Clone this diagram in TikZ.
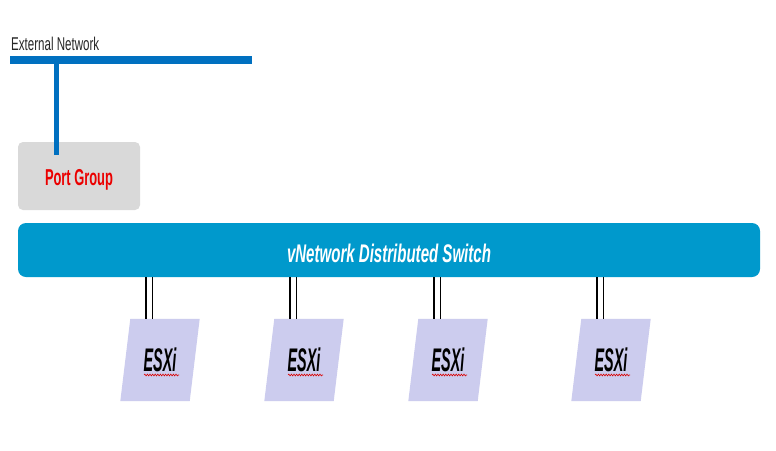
\documentclass[tikz,border=0pt]{standalone}
\usepackage{fontspec}
\setmainfont{Liberation Sans}
\usepackage{graphicx}
\usetikzlibrary{backgrounds,decorations.pathmorphing}
\definecolor{extblue}{RGB}{0,112,192}
\definecolor{swblue}{RGB}{0,153,204}
\definecolor{pggray}{RGB}{217,217,217}
\definecolor{lav}{RGB}{204,204,238}
\definecolor{pgred}{RGB}{235,0,0}
\newcommand{\hsq}[2]{\scalebox{#1}[1]{#2}}
\begin{document}
\begin{tikzpicture}[x=1pt,y=-1pt,
  extline/.style={extblue,line width=8pt},
  tapline/.style={extblue,line width=5pt},
  extlbl/.style={anchor=base west,inner sep=0pt,text=black!85,font=\fontsize{18.5}{20}\selectfont},
  pgbox/.style={fill=pggray,rounded corners=5pt,minimum width=122pt,minimum height=68pt,inner sep=0pt,
    text height=18pt,text depth=0pt,text=pgred,font=\bfseries\fontsize{23}{26}\selectfont},
  swbox/.style={fill=swblue,rounded corners=8pt,minimum width=742pt,minimum height=54pt,inner sep=0pt,
    text height=24pt,text depth=0pt,text=white,font=\bfseries\itshape\fontsize{25.5}{28}\selectfont},
  esx/.style={minimum width=69pt,minimum height=82pt,inner sep=0pt,text height=23.4pt,text depth=0pt,
    text=black,font=\bfseries\itshape\fontsize{32.7}{36}\selectfont},
  uplink/.style={black,line width=1.6pt},
  squiggle/.style={red!85!black,line width=0.6pt,decorate,decoration={snake,amplitude=0.9pt,segment length=2.6pt}}
]
\useasboundingbox (0,0) rectangle (776,450);
\begin{scope}[on background layer]
  \fill[white] (0,0) rectangle (776,450);
\end{scope}
% external network
\coordinate (extL) at (10,60);
\coordinate (extR) at (252,60);
\node[extlbl] (extlabel) at (11,50) {\hsq{0.625}{External Network}};
\draw[extline] (extL) -- (extR);
% port group
\node[pgbox] (pg) at (79,176) {\hsq{0.56}{Port Group}};
\coordinate (tapT) at (56,60);
\coordinate (tapB) at (56,155);
\draw[tapline] (tapT) -- (tapB);
% switch
\node[swbox] (sw) at (389,250) {\hsq{0.59}{vNetwork Distributed Switch}};
% hosts
\foreach \i/\x in {1/160,2/304,3/448,4/611} {
  \node[esx] (e\i) at (\x,360) {\hsq{0.44}{ESXi}};
  \begin{scope}[on background layer]
    \fill[lav] ([xshift=5pt]e\i.north west) -- ([xshift=5pt]e\i.north east)
      -- ([xshift=-5pt]e\i.south east) -- ([xshift=-5pt]e\i.south west) -- cycle;
  \end{scope}
  \draw[squiggle] ([shift={(-16,15)}]e\i.center) -- ([shift={(19,15)}]e\i.center);
  \draw[uplink] ([xshift=-14pt]e\i.north) -- ([xshift=-14pt]e\i.north |- sw.south);
  \draw[uplink] ([xshift=-7.5pt]e\i.north) -- ([xshift=-7.5pt]e\i.north |- sw.south);
}
\end{tikzpicture}
\end{document}
